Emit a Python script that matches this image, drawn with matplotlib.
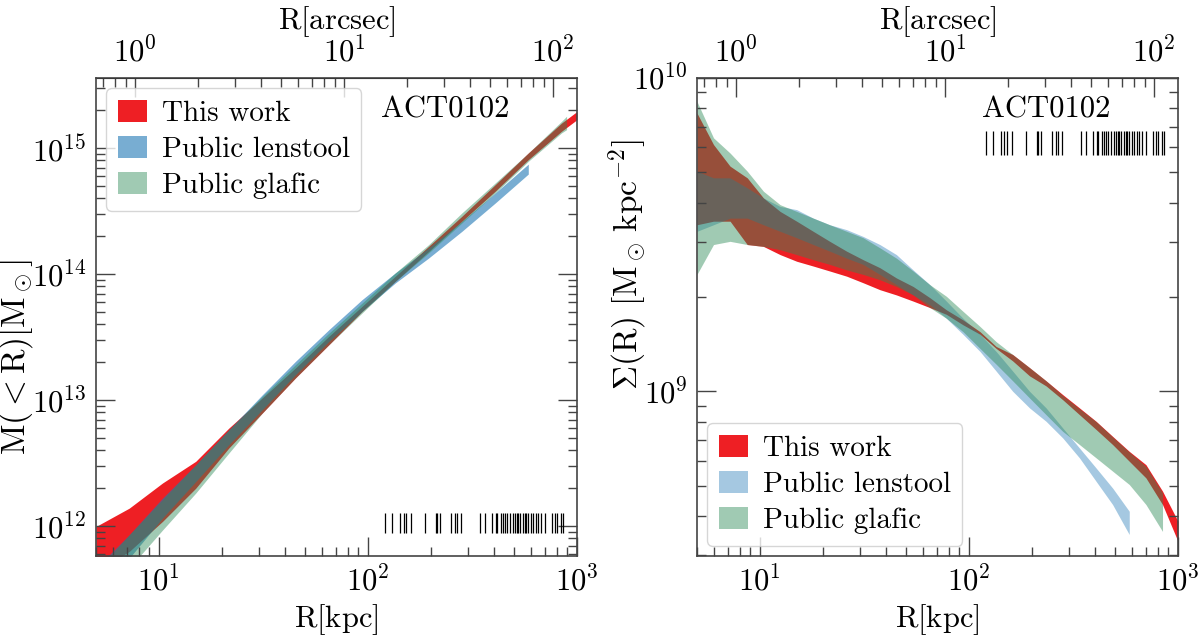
import numpy as np
import matplotlib.pyplot as plt
from matplotlib.ticker import NullFormatter

plt.rcParams['font.family'] = 'serif'
plt.rcParams['font.serif'] = ['cmr10']
plt.rcParams['mathtext.fontset'] = 'cm'
plt.rcParams['axes.formatter.use_mathtext'] = True

KPC_PER_ARCSEC = 7.7  # ACT0102 scale

# --- enclosed mass M(<R) (left panel), bands lower/upper in M_sun
r_mass = [5.0, 7.21, 10.4, 15.0, 21.6, 31.2, 45.0, 65.0, 93.7, 135, 195, 281, 406, 585, 844, 1000]
mass_this_hi = [9.95e11, 1.39e12, 2.20e12, 3.27e12, 6.00e12, 1.04e13, 1.80e13, 3.21e13,
                5.55e13, 9.6e13, 1.66e14, 2.87e14, 5.12e14, 9.14e14, 1.58e15, 1.95e15]
mass_this_lo = [4.38e11, 6.30e11, 1.09e12, 2.00e12, 4.17e12, 7.89e12, 1.50e13, 2.75e13,
                5.06e13, 8.75e13, 1.51e14, 2.62e14, 4.54e14, 8.09e14, 1.36e15, 1.68e15]

r_mass_lens = r_mass[:14]
mass_lens_hi = [4.65e11, 8.55e11, 1.67e12, 3.07e12, 5.82e12, 1.10e13, 2.03e13, 3.62e13,
                6.27e13, 1.02e14, 1.61e14, 2.62e14, 4.40e14, 7.46e14]
mass_lens_lo = [2.69e11, 5.57e11, 1.16e12, 2.26e12, 4.43e12, 8.39e12, 1.59e13, 2.92e13,
                5.06e13, 8.49e13, 1.34e14, 2.18e14, 3.66e14, 6.22e14]

r_mass_glafic = r_mass[:15] + [892]
mass_glafic_hi = [4.38e11, 8.55e11, 1.62e12, 3.07e12, 5.82e12, 1.07e13, 1.91e13, 3.40e13,
                  5.89e13, 1.02e14, 1.71e14, 3.05e14, 5.28e14, 9.14e14, 1.63e15, 1.79e15]
mass_glafic_lo = [2.10e11, 4.65e11, 9.31e11, 1.83e12, 3.80e12, 7.89e12, 1.50e13, 2.75e13,
                  4.91e13, 8.75e13, 1.47e14, 2.54e14, 4.40e14, 7.85e14, 1.32e15, 1.40e15]

# --- surface density Sigma(R) (right panel), in 1e9 M_sun kpc^-2
r_sig = [5.0, 6.0, 7.2, 8.7, 10.4, 12.5, 15.0, 18.0, 21.6, 26.0, 31.2, 37.5, 45.0, 54.1, 65.0,
         78.0, 93.7, 113, 135, 162, 195, 234, 281, 338, 406, 487, 585, 703, 844, 1000]
sig_this_hi = [7.73, 6.13, 5.23, 4.80, 4.14, 3.75, 3.49, 3.24, 3.01, 2.80, 2.63, 2.48, 2.30, 2.16, 1.99,
               1.82, 1.69, 1.55, 1.39, 1.31, 1.19, 1.08, 0.976, 0.885, 0.802, 0.718, 0.643, 0.583, 0.480, 0.385]
sig_this_lo = [3.40, 3.49, 3.49, 2.94, 2.90, 2.73, 2.60, 2.51, 2.42, 2.33, 2.22, 2.11, 2.03, 1.94, 1.85,
               1.76, 1.63, 1.52, 1.37, 1.25, 1.12, 1.04, 0.940, 0.842, 0.755, 0.676, 0.598, 0.529, 0.435, 0.332]

r_sig_lens = r_sig[:27]
sig_lens_hi = [5.04, 4.80, 4.80, 4.46, 4.14, 3.89, 3.80, 3.57, 3.40, 3.28, 3.12, 2.94, 2.73, 2.44, 2.19,
               1.94, 1.71, 1.52, 1.34, 1.16, 1.00, 0.885, 0.764, 0.659, 0.569, 0.491, 0.414]
sig_lens_lo = [3.24, 3.40, 3.57, 3.57, 3.40, 3.24, 3.09, 2.94, 2.80, 2.66, 2.54, 2.36, 2.19, 2.03, 1.89,
               1.71, 1.52, 1.34, 1.16, 1.00, 0.885, 0.802, 0.710, 0.613, 0.516, 0.435, 0.349]

r_sig_glafic = r_sig[:29]
sig_glafic_hi = [8.42, 6.44, 5.76, 5.04, 4.35, 3.94, 3.75, 3.57, 3.40, 3.24, 3.09, 2.87, 2.66, 2.42, 2.19,
                 2.01, 1.80, 1.61, 1.44, 1.31, 1.19, 1.08, 0.97, 0.88, 0.80, 0.715, 0.64, 0.576, 0.474]
sig_glafic_lo = [2.36, 2.94, 3.01, 2.94, 2.90, 2.83, 2.73, 2.63, 2.54, 2.44, 2.36, 2.27, 2.16, 2.03, 1.85,
                 1.71, 1.55, 1.37, 1.22, 1.08, 0.952, 0.842, 0.745, 0.676, 0.613, 0.556, 0.504, 0.435, 0.357]

# radii of the multiple images (rug)
r_images = [121, 130, 142, 148, 152, 160, 188, 211, 215, 222, 251, 261, 268, 279, 344, 364, 391,
            409, 416, 432, 443, 453, 465, 479, 494, 506, 515, 524, 532, 552, 565, 573, 583, 601,
            616, 635, 653, 675, 701, 762, 782, 805, 836, 859]

labels = ['This work', 'Public lenstool', 'Public glafic']
RED = '#ee1f24'
BLUE = '#1f77b4'
GREEN = '#2e8b57'
SPINE = '#444444'


def style_axis(ax):
    ax.set_xscale('log')
    ax.set_yscale('log')
    ax.set_xlim(5, 1000)
    for s in ax.spines.values():
        s.set_color(SPINE)
        s.set_linewidth(1.2)
    ax.tick_params(which='both', direction='in', top=False, right=True, colors=SPINE,
                   labelcolor='black', labelsize=22, pad=7, width=1.0)
    ax.tick_params(which='major', length=13.5)
    ax.tick_params(which='minor', length=6.5)
    ax.xaxis.set_minor_formatter(NullFormatter())
    ax.yaxis.set_minor_formatter(NullFormatter())
    ax.set_xlabel(r'$\mathrm{R[kpc]}$', fontsize=22)

    sec = ax.secondary_xaxis('top', functions=(lambda r: r / KPC_PER_ARCSEC,
                                               lambda a: a * KPC_PER_ARCSEC))
    sec.tick_params(which='both', direction='in', colors=SPINE, labelcolor='black',
                    labelsize=22, pad=7, width=1.0)
    sec.tick_params(which='major', length=13.5)
    sec.tick_params(which='minor', length=6.5)
    sec.xaxis.set_minor_formatter(NullFormatter())
    sec.set_xlabel(r'$\mathrm{R[arcsec]}$', fontsize=22, labelpad=6)
    ax.text(0.726, 0.933, 'ACT0102', transform=ax.transAxes, ha='center', va='center',
            fontsize=22)


legend_kw = dict(fontsize=21, handlelength=1.0, handleheight=0.8, labelspacing=0.3,
                 borderaxespad=0.35, handletextpad=0.5, borderpad=0.4)

fig = plt.figure(figsize=(12, 6.36), dpi=100)
ax1 = fig.add_axes([0.08, 0.1258, 0.4008, 0.7516])
ax2 = fig.add_axes([0.5808, 0.1258, 0.4008, 0.7516])

# left: enclosed mass
ax1.fill_between(r_mass, mass_this_lo, mass_this_hi, color=RED, lw=0, label=labels[0])
ax1.fill_between(r_mass_lens, mass_lens_lo, mass_lens_hi, color=BLUE, alpha=0.6, lw=0,
                 label=labels[1])
ax1.fill_between(r_mass_glafic, mass_glafic_lo, mass_glafic_hi, color=GREEN, alpha=0.45, lw=0,
                 label=labels[2])
style_axis(ax1)
ax1.set_ylim(5.8e11, 3.6e15)
ax1.set_ylabel(r'$\mathrm{M}(<\mathrm{R})[\mathrm{M}_\odot]$', fontsize=24)
ax1.yaxis.set_label_coords(-0.126, 0.416)
ax1.vlines(r_images, 0.048, 0.09, transform=ax1.get_xaxis_transform(), color='black', lw=0.9)
ax1.legend(loc='upper left', **legend_kw)

# right: surface density
sig = lambda v: np.array(v) * 1e9
ax2.fill_between(r_sig, sig(sig_this_lo), sig(sig_this_hi), color=RED, lw=0, label=labels[0])
ax2.fill_between(r_sig_lens, sig(sig_lens_lo), sig(sig_lens_hi), color=BLUE, alpha=0.4, lw=0,
                 label=labels[1])
ax2.fill_between(r_sig_glafic, sig(sig_glafic_lo), sig(sig_glafic_hi), color=GREEN, alpha=0.45,
                 lw=0, label=labels[2])
style_axis(ax2)
ax2.set_ylim(2.98e8, 1e10)
ax2.set_ylabel(r'$\Sigma(\mathrm{R})\ [\mathrm{M}_\odot\,\mathrm{kpc}^{-2}]$', fontsize=24)
ax2.yaxis.set_label_coords(-0.098, 0.61)
ax2.vlines(r_images, 0.839, 0.889, transform=ax2.get_xaxis_transform(), color='black', lw=0.9)
ax2.legend(loc='lower left', **legend_kw)

fig.savefig('out.png', dpi=100)
